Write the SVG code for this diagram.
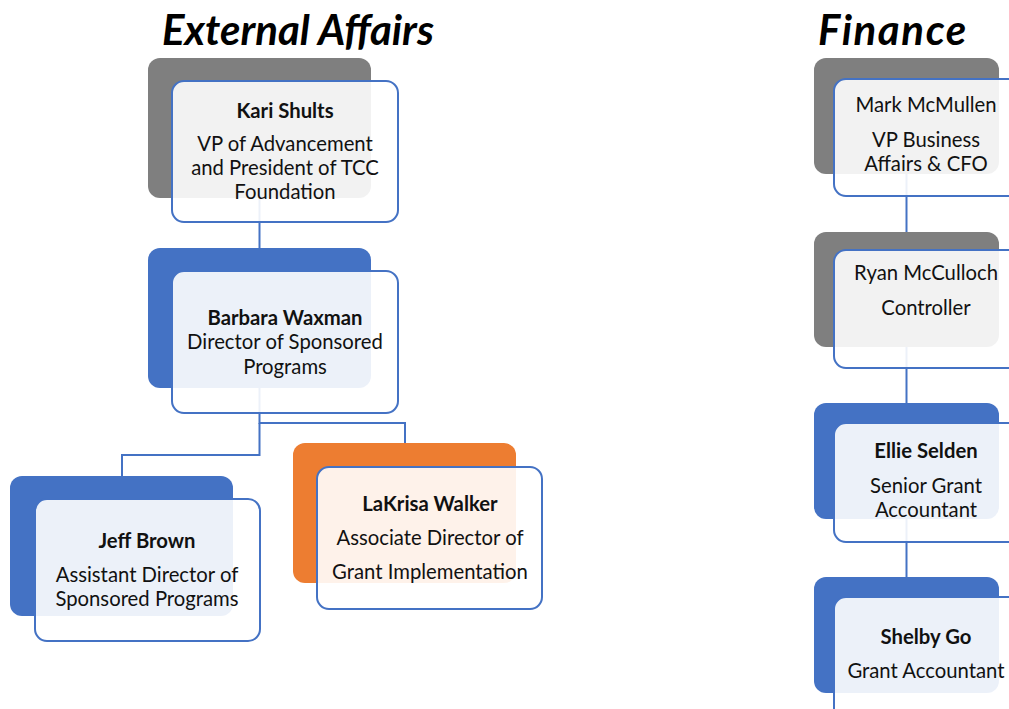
<svg xmlns="http://www.w3.org/2000/svg" width="1009" height="709" viewBox="0 0 1009 709">
<style>
.bg{fill:#ffffff}
.gray{fill:#7f7f7f}
.blue{fill:#4472c4}
.orange{fill:#ed7d31}
.front{fill:#ffffff;fill-opacity:0.9;stroke:#4472c4;stroke-width:2}
.conn{fill:none;stroke:#4472c4;stroke-width:2}
text{font-family:Lato,"Liberation Sans",sans-serif;font-size:20.3px;fill:#111;text-anchor:middle}
.b{font-weight:bold}
.title{font-family:Lato,"Liberation Sans",sans-serif;font-size:42px;font-weight:bold;font-style:italic;text-anchor:start;fill:#000}
</style>
<rect class="bg" width="1009" height="709"/>
<text class="title" x="162" y="45">External Affairs</text>
<text class="title" x="818" y="45" letter-spacing="1.6">Finance</text>
<g id="connectors">
<path class="conn" d="M259.5 198 V248"/>
<path class="conn" d="M259.5 388 V423 H405 V443"/>
<path class="conn" d="M259.5 423 V455 H122 V476"/>
<path class="conn" d="M906.5 174 V232"/>
<path class="conn" d="M906.5 347 V403"/>
<path class="conn" d="M906.5 519 V577"/>
</g>
<g id="kari">
<rect class="gray" x="148" y="58" width="223" height="140" rx="12"/>
<rect class="front" x="172" y="81" width="226" height="141" rx="12"/>
<text class="b" x="285" y="118">Kari Shults</text>
<text x="285" y="151">VP of Advancement</text>
<text x="285" y="175">and President of TCC</text>
<text x="285" y="199">Foundation</text>
</g>
<g id="barbara">
<rect class="blue" x="148" y="248" width="223" height="140" rx="12"/>
<rect class="front" x="172" y="271" width="226" height="142" rx="12"/>
<text class="b" x="285" y="325">Barbara Waxman</text>
<text x="285" y="349">Director of Sponsored</text>
<text x="285" y="374">Programs</text>
</g>
<g id="jeff">
<rect class="blue" x="10" y="476" width="223" height="140" rx="12"/>
<rect class="front" x="35" y="499" width="225" height="142" rx="12"/>
<text class="b" x="147" y="548">Jeff Brown</text>
<text x="147" y="582">Assistant Director of</text>
<text x="147" y="606">Sponsored Programs</text>
</g>
<g id="lakrisa">
<rect class="orange" x="293" y="443" width="223" height="140" rx="12"/>
<rect class="front" x="317" y="467" width="225" height="142" rx="12"/>
<text class="b" x="430" y="511">LaKrisa Walker</text>
<text x="430" y="545">Associate Director of</text>
<text x="430" y="579">Grant Implementation</text>
</g>
<g id="mark">
<rect class="gray" x="814" y="58" width="185" height="116" rx="12"/>
<rect class="front" x="834" y="79" width="200" height="117" rx="12"/>
<text x="926" y="112">Mark McMullen</text>
<text x="926" y="147">VP Business</text>
<text x="926" y="171">Affairs &amp; CFO</text>
</g>
<g id="ryan">
<rect class="gray" x="814" y="232" width="185" height="115" rx="12"/>
<rect class="front" x="834" y="250" width="200" height="118" rx="12"/>
<text x="926" y="280">Ryan McCulloch</text>
<text x="926" y="315">Controller</text>
</g>
<g id="ellie">
<rect class="blue" x="814" y="403" width="185" height="116" rx="12"/>
<rect class="front" x="834" y="423" width="200" height="119" rx="12"/>
<text class="b" x="926" y="458">Ellie Selden</text>
<text x="926" y="493">Senior Grant</text>
<text x="926" y="517">Accountant</text>
</g>
<g id="shelby">
<rect class="blue" x="814" y="577" width="185" height="116" rx="12"/>
<rect class="front" x="834" y="597" width="200" height="130" rx="12"/>
<text class="b" x="926" y="644">Shelby Go</text>
<text x="926" y="678">Grant Accountant</text>
</g>
</svg>
